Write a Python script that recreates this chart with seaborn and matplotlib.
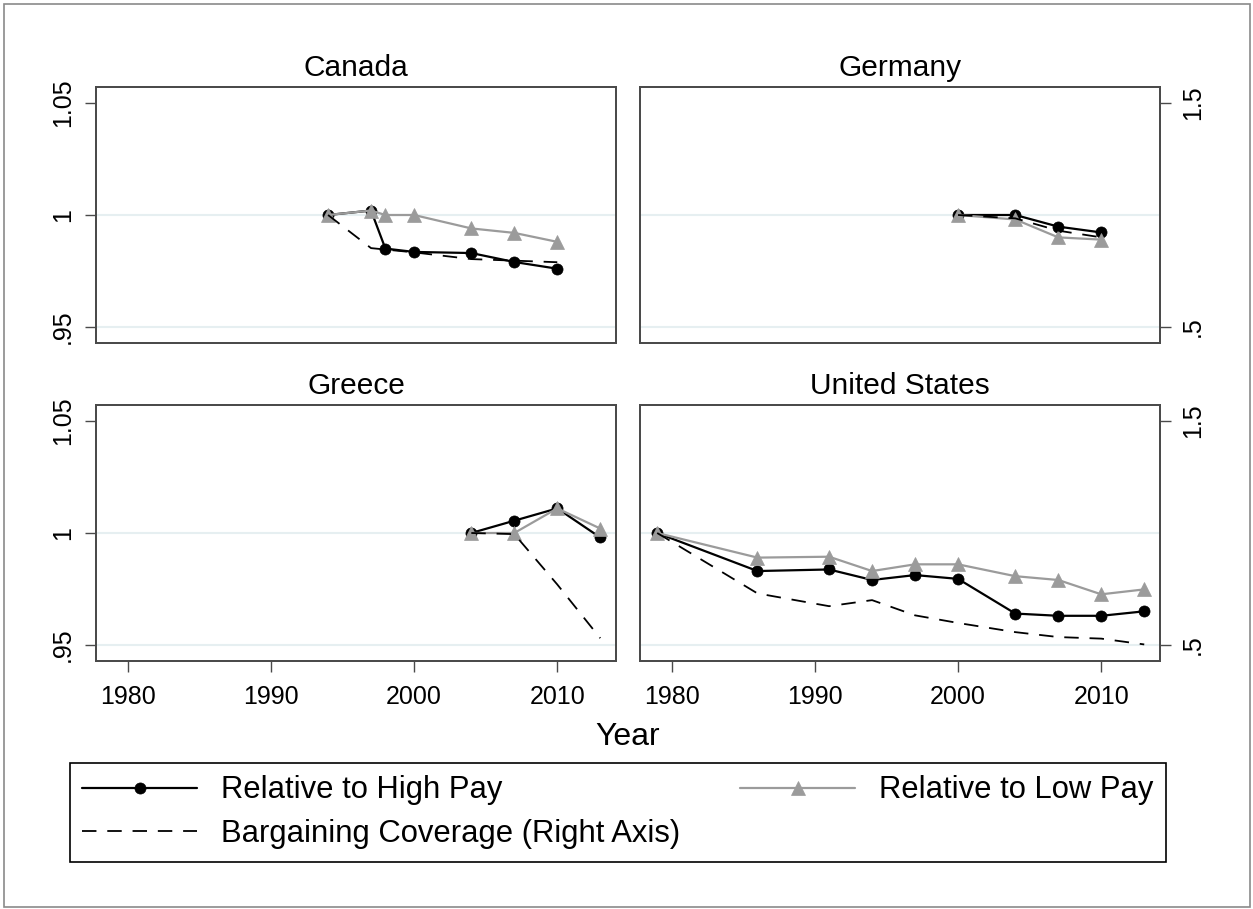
import numpy as np
import pandas as pd
import matplotlib
matplotlib.use("Agg")
import matplotlib.pyplot as plt
import seaborn as sns
from matplotlib.patches import Rectangle

sns.set_theme(style="white")
plt.rcParams['font.family'] = ['Liberation Sans', 'DejaVu Sans']
plt.rcParams['text.color'] = 'black'
plt.rcParams['xtick.labelcolor'] = 'black'
plt.rcParams['ytick.labelcolor'] = 'black'


# DATA

can_years = [1994, 1997, 1998, 2000, 2004, 2007, 2010]
can_high = [1.000, 1.002, 0.985, 0.9835, 0.983, 0.979, 0.976]
can_low = [1.000, 1.002, 1.000, 1.000, 0.994, 0.992, 0.988]
can_barg_years = [1994, 1997, 2000, 2004, 2007, 2010]
can_barg = [1.000, 0.852, 0.833, 0.803, 0.796, 0.789]

ger_years = [2000, 2004, 2007, 2010]
ger_high = [1.000, 1.000, 0.9948, 0.9922]
ger_low = [1.000, 0.998, 0.990, 0.989]
ger_barg = [1.000, 0.985, 0.930, 0.900]

gre_years = [2004, 2007, 2010, 2013]
gre_high = [1.000, 1.0055, 1.011, 0.998]
gre_low = [1.000, 1.000, 1.011, 1.002]
gre_barg = [1.000, 0.995, 0.770, 0.530]

us_years = [1979, 1986, 1991, 1994, 1997, 2000, 2004, 2007, 2010, 2013]
us_high = [1.000, 0.983, 0.9837, 0.979, 0.9812, 0.9795, 0.964, 0.963, 0.963, 0.965]
us_low = [1.000, 0.989, 0.9894, 0.983, 0.986, 0.986, 0.9807, 0.979, 0.9726, 0.9748]
us_barg = [1.000, 0.730, 0.673, 0.700, 0.632, 0.598, 0.557, 0.535, 0.528, 0.502]

countries = ["Canada", "Germany", "Greece", "United States"]
panels = {
    "Canada": (can_years, can_high, can_low, can_barg_years, can_barg),
    "Germany": (ger_years, ger_high, ger_low, ger_years, ger_barg),
    "Greece": (gre_years, gre_high, gre_low, gre_years, gre_barg),
    "United States": (us_years, us_high, us_low, us_years, us_barg),
}

x_ticks = [1980, 1990, 2000, 2010]
left_ticks = [0.95, 1.0, 1.05]
left_labels = [".95", "1", "1.05"]
right_ticks = [0.5, 1.5]
right_labels = [".5", "1.5"]

GRAY = "#9b9b9b"
FRAME = "#4a4a4a"
GRID = "#e6eff1"

W, H = 1253, 909
fig = plt.figure(figsize=(W / 100, H / 100), dpi=100)

# axes boxes in pixels: left, top, right, bottom
boxes = {
    "Canada": (96, 87, 616, 343),
    "Germany": (640, 87, 1160, 343),
    "Greece": (96, 405, 616, 661),
    "United States": (640, 405, 1160, 661),
}

handles = None
for i, c in enumerate(countries):
    l, t, r, b = boxes[c]
    ax = fig.add_axes([l / W, 1 - b / H, (r - l) / W, (b - t) / H])
    years, high, low, byears, barg = panels[c]

    ax.axhline(1.0, color=GRID, lw=1.5, zorder=0)
    ax.axhline(0.95, color=GRID, lw=1.5, zorder=0)

    sns.lineplot(x=years, y=high, ax=ax, color="black", linewidth=1.6,
                 marker="o", markersize=8, markeredgecolor="black",
                 markeredgewidth=0.5, label="Relative to High Pay")
    sns.lineplot(x=years, y=low, ax=ax, color=GRAY, linewidth=1.6,
                 marker="^", markersize=10, markeredgecolor=GRAY,
                 markeredgewidth=0.5, label="Relative to Low Pay")

    ax2 = ax.twinx()
    sns.lineplot(x=byears, y=barg, ax=ax2, color="black", linewidth=1.3,
                 linestyle=(0, (8, 6)), label="Bargaining Coverage (Right Axis)")

    ax.set_xlim(1977.8, 2014.1)
    ax.set_ylim(0.9428, 1.0572)
    ax2.set_ylim(0.428, 1.572)

    if handles is None:
        h1, l1 = ax.get_legend_handles_labels()
        h2, l2 = ax2.get_legend_handles_labels()
        handles = [h1[0], h2[0], h1[1]]
        labels = [l1[0], l2[0], l1[1]]
    ax.get_legend().remove()
    ax2.get_legend().remove()

    for s in list(ax.spines.values()) + list(ax2.spines.values()):
        s.set_color(FRAME)
        s.set_linewidth(1.3)

    ax.set_title(c, fontsize=21.5, pad=8)
    ax.set_xlabel("")
    ax.set_ylabel("")
    ax2.set_ylabel("")

    bottom_row = i >= 2
    left_col = i % 2 == 0

    if bottom_row:
        ax.set_xticks(x_ticks)
        ax.set_xticklabels([str(v) for v in x_ticks], fontsize=18)
        ax.tick_params(axis="x", bottom=True, length=8, width=1, color=FRAME, pad=9)
    else:
        ax.set_xticks([])

    if left_col:
        ax.set_yticks(left_ticks)
        ax.set_yticklabels(left_labels, fontsize=18, rotation=90, va="center")
        ax.tick_params(axis="y", left=True, length=8, width=1, color=FRAME, pad=7)
        ax2.set_yticks([])
    else:
        ax.set_yticks([])
        ax2.set_yticks(right_ticks)
        ax2.set_yticklabels(right_labels, fontsize=18, rotation=90, va="center")
        ax2.tick_params(axis="y", right=True, length=8, width=1, color=FRAME, pad=7)

fig.text(628 / W, 1 - 737 / H, "Year", fontsize=23, ha="center", va="center")

leg = fig.legend(handles, labels, ncol=2, loc="upper left",
                 bbox_to_anchor=(70 / W, 1 - 763 / H),
                 borderaxespad=0, fontsize=22.3, frameon=True,
                 fancybox=False, framealpha=1, handlelength=3.7,
                 handletextpad=0.78, labelspacing=0.45, borderpad=0.4,
                 columnspacing=1.94)
leg.get_frame().set_edgecolor("black")
leg.get_frame().set_linewidth(1.2)

# outer border
fig.patches.append(Rectangle((4 / W, 2 / H), (1250 - 4) / W, (H - 6) / H,
                             transform=fig.transFigure, fill=False,
                             edgecolor="#8a8a8a", linewidth=1.2))

fig.savefig("out.png", dpi=100)
